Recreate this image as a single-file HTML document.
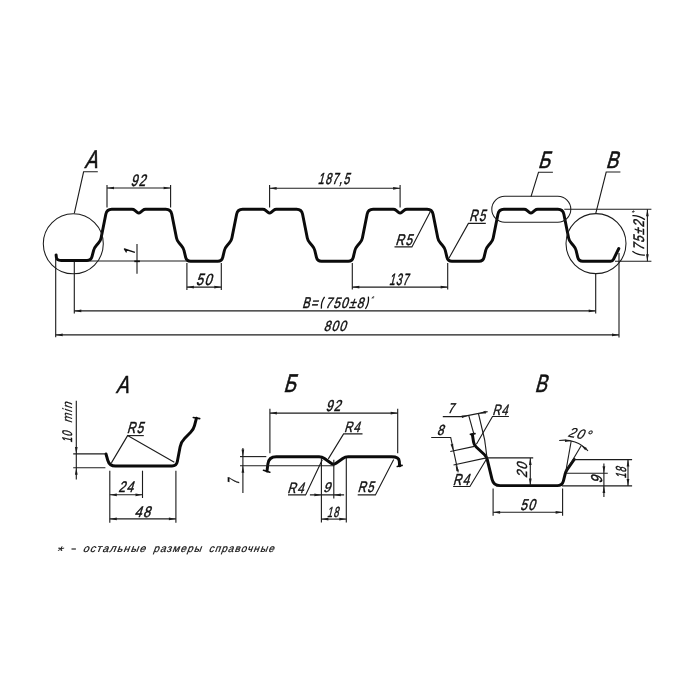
<!DOCTYPE html>
<html><head><meta charset="utf-8"><style>
html,body{margin:0;padding:0;background:#fff;width:700px;height:700px;overflow:hidden}
svg{display:block;will-change:transform}
text{font-family:"Liberation Sans",sans-serif;font-style:normal}
</style></head><body>
<svg width="700" height="700" viewBox="0 0 700 700">
<rect width="700" height="700" fill="#fff"/>
<path d="M56.1,254.9 L56.4,257.7 Q56.7,260.5 61.2,260.5 L87,260.5 Q91,260.5 91.99,256.62 L93.56,250.51 Q94.3,247.6 96.34,245.4 L98.46,243.1 Q100.5,240.9 101.09,237.96 L105.82,214.2 Q106.8,209.3 111.8,209.3 L132,209.3 Q133.6,209.3 134.82,210.33 L137.27,212.41 Q138.8,213.7 140.33,212.41 L142.78,210.33 Q144,209.3 145.6,209.3 L165.8,209.3 Q170.8,209.3 171.78,214.2 L176.51,237.96 Q177.1,240.9 179.14,243.1 L181.26,245.4 Q183.3,247.6 184.01,250.52 L185.66,257.31 Q186.6,261.2 190.6,261.2 L217.8,261.2 Q221.8,261.2 222.74,257.31 L224.39,250.52 Q225.1,247.6 227.14,245.4 L229.26,243.1 Q231.3,240.9 231.89,237.96 L236.62,214.2 Q237.6,209.3 242.6,209.3 L262.8,209.3 Q264.4,209.3 265.62,210.33 L268.07,212.41 Q269.6,213.7 271.13,212.41 L273.58,210.33 Q274.8,209.3 276.4,209.3 L296.6,209.3 Q301.6,209.3 302.58,214.2 L307.31,237.96 Q307.9,240.9 309.94,243.1 L312.06,245.4 Q314.1,247.6 314.81,250.52 L316.46,257.31 Q317.4,261.2 321.4,261.2 L348.3,261.2 Q352.3,261.2 353.24,257.31 L354.89,250.52 Q355.6,247.6 357.64,245.4 L359.76,243.1 Q361.8,240.9 362.39,237.96 L367.12,214.2 Q368.1,209.3 373.1,209.3 L393.3,209.3 Q394.9,209.3 396.12,210.33 L398.57,212.41 Q400.1,213.7 401.63,212.41 L404.08,210.33 Q405.3,209.3 406.9,209.3 L427.1,209.3 Q432.1,209.3 433.08,214.2 L437.81,237.96 Q438.4,240.9 440.44,243.1 L442.56,245.4 Q444.6,247.6 445.31,250.52 L446.96,257.31 Q447.9,261.2 451.9,261.2 L479.1,261.2 Q483.1,261.2 484.04,257.31 L485.69,250.52 Q486.4,247.6 488.44,245.4 L490.56,243.1 Q492.6,240.9 493.19,237.96 L497.92,214.2 Q498.9,209.3 503.9,209.3 L524.1,209.3 Q525.7,209.3 526.92,210.33 L529.37,212.41 Q530.9,213.7 532.43,212.41 L534.88,210.33 Q536.1,209.3 537.7,209.3 L557.9,209.3 Q562.9,209.3 563.88,214.2 L568.61,237.96 Q569.2,240.9 571.24,243.1 L573.36,245.4 Q575.4,247.6 576.11,250.52 L577.76,257.31 Q578.7,261.2 582.7,261.2 L610.6,261.2 Q612.6,261.2 613.48,259.4 L618.8,248.5" fill="none" stroke="#0b0b0b" stroke-width="2.95" stroke-linejoin="round" stroke-linecap="round"/>
<circle cx="73.3" cy="243.8" r="30" fill="none" stroke="#1c1c1c" stroke-width="1.05"/>
<circle cx="596" cy="243.6" r="30" fill="none" stroke="#1c1c1c" stroke-width="1.05"/>
<path d="M74.3,213.4 L83.6,171.8 L97.8,171.8" fill="none" stroke="#1c1c1c" stroke-width="1.12"/>
<g transform="translate(84.2,168.4) scale(0.2396,0.2522) translate(0,0)"><text transform="skewX(-17) scale(0.8,1)" font-size="100" letter-spacing="10" fill="#111" stroke="#111" stroke-width="2.5">А</text></g>
<path d="M107,185 L107,207.5" fill="none" stroke="#1c1c1c" stroke-width="1.12"/>
<path d="M170.6,185 L170.6,207.5" fill="none" stroke="#1c1c1c" stroke-width="1.12"/>
<path d="M107,188 L170.6,188" fill="none" stroke="#1c1c1c" stroke-width="1.12"/>
<path d="M107,188 L114,189.35 L114,186.65 Z" fill="#1c1c1c"/>
<path d="M170.6,188 L163.6,186.65 L163.6,189.35 Z" fill="#1c1c1c"/>
<g transform="translate(131.9,185.6) scale(0.1520,0.1657) translate(-9,0)"><text transform="skewX(-17) scale(0.8,1)" font-size="100" letter-spacing="10" fill="#111" stroke="#111" stroke-width="3">92</text></g>
<path d="M269.6,185.1 L269.6,207.4" fill="none" stroke="#1c1c1c" stroke-width="1.12"/>
<path d="M400.1,185.1 L400.1,207.4" fill="none" stroke="#1c1c1c" stroke-width="1.12"/>
<path d="M269.6,188.3 L400.1,188.3" fill="none" stroke="#1c1c1c" stroke-width="1.12"/>
<path d="M269.6,188.3 L276.6,189.65 L276.6,186.95 Z" fill="#1c1c1c"/>
<path d="M400.1,188.3 L393.1,186.95 L393.1,189.65 Z" fill="#1c1c1c"/>
<g transform="translate(318.6,184.3) scale(0.1354,0.1586) translate(-6,0)"><text transform="skewX(-17) scale(0.8,1)" font-size="100" letter-spacing="10" fill="#111" stroke="#111" stroke-width="3">187,5</text></g>
<path d="M90,261 L187,261" fill="none" stroke="#1c1c1c" stroke-width="1.12"/>
<path d="M137,244 L137,273.7" fill="none" stroke="#1c1c1c" stroke-width="1.12"/>
<path d="M134.3,261.3 L139.9,261.3" fill="none" stroke="#111" stroke-width="1.7"/>
<path d="M126.6,252.4 L124.4,249.0 L134.9,252.3" fill="none" stroke="#111" stroke-width="1.35" stroke-linejoin="round"/>
<path d="M186.9,263 L186.9,290" fill="none" stroke="#1c1c1c" stroke-width="1.12"/>
<path d="M221.3,263 L221.3,290" fill="none" stroke="#1c1c1c" stroke-width="1.12"/>
<path d="M186.9,287.1 L221.3,287.1" fill="none" stroke="#1c1c1c" stroke-width="1.12"/>
<path d="M186.9,287.1 L193.9,288.45 L193.9,285.75 Z" fill="#1c1c1c"/>
<path d="M221.3,287.1 L214.3,285.75 L214.3,288.45 Z" fill="#1c1c1c"/>
<g transform="translate(197.1,284.6) scale(0.1610,0.1629) translate(-8,0)"><text transform="skewX(-17) scale(0.8,1)" font-size="100" letter-spacing="10" fill="#111" stroke="#111" stroke-width="3">50</text></g>
<path d="M430.9,210.5 L411.9,246.9 L394.5,246.9" fill="none" stroke="#1c1c1c" stroke-width="1.12"/>
<g transform="translate(396.4,244.7) scale(0.1487,0.1551) translate(-7,0)"><text transform="skewX(-17) scale(0.8,1)" font-size="100" letter-spacing="10" fill="#111" stroke="#111" stroke-width="3">R5</text></g>
<path d="M352.3,263 L352.3,289.5" fill="none" stroke="#1c1c1c" stroke-width="1.12"/>
<path d="M447.7,263 L447.7,289.5" fill="none" stroke="#1c1c1c" stroke-width="1.12"/>
<path d="M352.3,287.1 L447.7,287.1" fill="none" stroke="#1c1c1c" stroke-width="1.12"/>
<path d="M352.3,287.1 L359.3,288.45 L359.3,285.75 Z" fill="#1c1c1c"/>
<path d="M447.7,287.1 L440.7,285.75 L440.7,288.45 Z" fill="#1c1c1c"/>
<g transform="translate(389.7,284.5) scale(0.1288,0.1643) translate(-6,0)"><text transform="skewX(-17) scale(0.8,1)" font-size="100" letter-spacing="10" fill="#111" stroke="#111" stroke-width="3">137</text></g>
<path d="M448.9,258.3 L468.4,223.4 L485.8,223.4" fill="none" stroke="#1c1c1c" stroke-width="1.12"/>
<g transform="translate(470.1,221.3) scale(0.1453,0.1623) translate(-7,0)"><text transform="skewX(-17) scale(0.8,1)" font-size="100" letter-spacing="10" fill="#111" stroke="#111" stroke-width="3">R5</text></g>
<rect x="491.8" y="196.2" width="79" height="26.1" rx="13" fill="none" stroke="#1c1c1c" stroke-width="1.05"/>
<path d="M531,196.6 L538.5,172.3 L552.9,172.3" fill="none" stroke="#1c1c1c" stroke-width="1.12"/>
<g transform="translate(539.3,168) scale(0.2286,0.2377) translate(-7,0)"><text transform="skewX(-17) scale(0.8,1)" font-size="100" letter-spacing="10" fill="#111" stroke="#111" stroke-width="2.5">Б</text></g>
<path d="M595.7,213.6 L606.2,172 L620.4,172" fill="none" stroke="#1c1c1c" stroke-width="1.12"/>
<g transform="translate(607.1,168) scale(0.2304,0.2377) translate(-7,0)"><text transform="skewX(-17) scale(0.8,1)" font-size="100" letter-spacing="10" fill="#111" stroke="#111" stroke-width="2.5">В</text></g>
<path d="M564.3,209.2 L651.4,209.2" fill="none" stroke="#1c1c1c" stroke-width="1.12"/>
<path d="M615,261.2 L651.4,261.2" fill="none" stroke="#1c1c1c" stroke-width="1.12"/>
<path d="M647.4,209.2 L647.4,261.2" fill="none" stroke="#1c1c1c" stroke-width="1.12"/>
<path d="M647.4,209.2 L646.05,216.2 L648.75,216.2 Z" fill="#1c1c1c"/>
<path d="M647.4,261.2 L648.75,254.2 L646.05,254.2 Z" fill="#1c1c1c"/>
<g transform="translate(644,248.7) rotate(-90) scale(0.1487,0.1529) translate(-14,0)"><text transform="skewX(-17) scale(0.8,1)" font-size="100" letter-spacing="10" fill="#111" stroke="#111" stroke-width="3">75±2</text></g>
<path d="M632.4,251.3 Q638.5,255.6 644.9,255.1 M632.4,215.7 Q638.5,215.3 644.9,219.6" fill="none" stroke="#111" stroke-width="1.3"/>
<g transform="translate(632,210.1) scale(0.0966,0.0686) translate(-17,69)"><text transform="skewX(-17) scale(0.8,1)" font-size="100" letter-spacing="10" fill="#111" stroke="#111" stroke-width="1" >*</text></g>
<path d="M74.3,262 L74.3,313.4" fill="none" stroke="#1c1c1c" stroke-width="1.12"/>
<path d="M595.7,273.6 L595.7,313.4" fill="none" stroke="#1c1c1c" stroke-width="1.12"/>
<path d="M74.3,310.9 L595.7,310.9" fill="none" stroke="#1c1c1c" stroke-width="1.12"/>
<path d="M74.3,310.9 L81.3,312.25 L81.3,309.55 Z" fill="#1c1c1c"/>
<path d="M595.7,310.9 L588.7,309.55 L588.7,312.25 Z" fill="#1c1c1c"/>
<g transform="translate(303,307.9) scale(0.1420,0.1557) translate(-7,0)"><text transform="skewX(-17) scale(0.8,1)" font-size="100" letter-spacing="10" fill="#111" stroke="#111" stroke-width="3">B=</text></g>
<g transform="translate(327.1,308) scale(0.1504,0.1500) translate(-14,0)"><text transform="skewX(-17) scale(0.8,1)" font-size="100" letter-spacing="10" fill="#111" stroke="#111" stroke-width="3">750±8</text></g>
<path d="M324.6,296.9 Q320.8,302.2 321.4,308.6 M368.4,296.6 Q369.2,303.5 365.4,308.8" fill="none" stroke="#111" stroke-width="1.3"/>
<g transform="translate(371.6,296.3) scale(0.0862,0.0714) translate(-17,69)"><text transform="skewX(-17) scale(0.8,1)" font-size="100" letter-spacing="10" fill="#111" stroke="#111" stroke-width="1" >*</text></g>
<path d="M55.7,258 L55.7,337.3" fill="none" stroke="#1c1c1c" stroke-width="1.12"/>
<path d="M619,252.9 L619,337.5" fill="none" stroke="#1c1c1c" stroke-width="1.12"/>
<path d="M55.7,334.9 L619,334.9" fill="none" stroke="#1c1c1c" stroke-width="1.12"/>
<path d="M55.7,334.9 L62.7,336.25 L62.7,333.55 Z" fill="#1c1c1c"/>
<path d="M619,334.9 L612,333.55 L612,336.25 Z" fill="#1c1c1c"/>
<g transform="translate(324.6,331.4) scale(0.1490,0.1471) translate(-8,0)"><text transform="skewX(-17) scale(0.8,1)" font-size="100" letter-spacing="10" fill="#111" stroke="#111" stroke-width="3">800</text></g>
<g transform="translate(115.8,392.5) scale(0.2340,0.2464) translate(0,0)"><text transform="skewX(-17) scale(0.8,1)" font-size="100" letter-spacing="10" fill="#111" stroke="#111" stroke-width="2.5">А</text></g>
<path d="M106,454 L107.76,460.23 Q109.4,466 115.4,466 L172,466 Q176.5,466 177.33,461.58 L180.08,446.91 Q181,442 184.54,438.46 L190.67,432.33 Q193.5,429.5 194.5,425.63 L196.4,418.3" fill="none" stroke="#0b0b0b" stroke-width="2.95" stroke-linejoin="round" stroke-linecap="round"/>
<path d="M193.3,417.5 L199.7,418.6" fill="none" stroke="#0b0b0b" stroke-width="1.6" stroke-linejoin="round" stroke-linecap="round"/>
<path d="M111.4,462.9 L127.6,435.6 L174.3,462.3" fill="none" stroke="#1c1c1c" stroke-width="1.12"/>
<path d="M127.6,435.6 L143.8,435.6" fill="none" stroke="#1c1c1c" stroke-width="1.12"/>
<g transform="translate(127.8,433) scale(0.1470,0.1594) translate(-7,0)"><text transform="skewX(-17) scale(0.8,1)" font-size="100" letter-spacing="10" fill="#111" stroke="#111" stroke-width="3">R5</text></g>
<path d="M76.3,400.7 L76.3,479.6" fill="none" stroke="#1c1c1c" stroke-width="1.12"/>
<path d="M73.2,453.9 L105.4,453.9" fill="none" stroke="#1c1c1c" stroke-width="1.12"/>
<path d="M73.2,467.7 L105.4,467.7" fill="none" stroke="#1c1c1c" stroke-width="1.12"/>
<path d="M76.3,453.9 L77.65,446.9 L74.95,446.9 Z" fill="#1c1c1c"/>
<path d="M76.3,467.7 L74.95,474.7 L77.65,474.7 Z" fill="#1c1c1c"/>
<g transform="translate(71.9,442.1) rotate(-90) scale(0.1157,0.1400) translate(-6,0)"><text transform="skewX(-17) scale(0.8,1)" font-size="100" letter-spacing="10" fill="#111" stroke="#111" stroke-width="3">10</text></g>
<g transform="translate(62.3,422.5) rotate(-90) scale(0.1425,0.1333) translate(-6,72)"><text transform="skewX(-17) scale(0.8,1)" font-size="100" letter-spacing="10" fill="#111" stroke="#111" stroke-width="1.5" >min</text></g>
<path d="M109.8,470.7 L109.8,522.7" fill="none" stroke="#1c1c1c" stroke-width="1.12"/>
<path d="M142.5,470.7 L142.5,498" fill="none" stroke="#1c1c1c" stroke-width="1.12"/>
<path d="M175.9,470.7 L175.9,522.7" fill="none" stroke="#1c1c1c" stroke-width="1.12"/>
<path d="M109.8,494.8 L142.5,494.8" fill="none" stroke="#1c1c1c" stroke-width="1.12"/>
<path d="M109.8,494.8 L116.8,496.15 L116.8,493.45 Z" fill="#1c1c1c"/>
<path d="M142.5,494.8 L135.5,493.45 L135.5,496.15 Z" fill="#1c1c1c"/>
<g transform="translate(118.9,492.1) scale(0.1529,0.1529) translate(-4,0)"><text transform="skewX(-17) scale(0.8,1)" font-size="100" letter-spacing="10" fill="#111" stroke="#111" stroke-width="3">24</text></g>
<path d="M109.8,518.9 L175.9,518.9" fill="none" stroke="#1c1c1c" stroke-width="1.12"/>
<path d="M109.8,518.9 L116.8,520.25 L116.8,517.55 Z" fill="#1c1c1c"/>
<path d="M175.9,518.9 L168.9,517.55 L168.9,520.25 Z" fill="#1c1c1c"/>
<g transform="translate(135.3,516.8) scale(0.1627,0.1529) translate(-7,0)"><text transform="skewX(-17) scale(0.8,1)" font-size="100" letter-spacing="10" fill="#111" stroke="#111" stroke-width="3">48</text></g>
<g transform="translate(285,392.3) scale(0.2339,0.2565) translate(-7,0)"><text transform="skewX(-17) scale(0.8,1)" font-size="100" letter-spacing="10" fill="#111" stroke="#111" stroke-width="2.5">Б</text></g>
<path d="M269.9,408.8 L269.9,453.3" fill="none" stroke="#1c1c1c" stroke-width="1.12"/>
<path d="M397.7,408.8 L397.7,453.3" fill="none" stroke="#1c1c1c" stroke-width="1.12"/>
<path d="M269.9,413.1 L397.7,413.1" fill="none" stroke="#1c1c1c" stroke-width="1.12"/>
<path d="M269.9,413.1 L276.9,414.45 L276.9,411.75 Z" fill="#1c1c1c"/>
<path d="M397.7,413.1 L390.7,411.75 L390.7,414.45 Z" fill="#1c1c1c"/>
<g transform="translate(326.8,410.7) scale(0.1530,0.1586) translate(-9,0)"><text transform="skewX(-17) scale(0.8,1)" font-size="100" letter-spacing="10" fill="#111" stroke="#111" stroke-width="3">92</text></g>
<path d="M267,471 L267.9,463.9 Q268.8,456.8 276.3,456.8 L319,456.8 Q322,456.8 324.45,458.53 L331.15,463.27 Q333.6,465 336.05,463.27 L342.75,458.53 Q345.2,456.8 348.2,456.8 L391.5,456.8 Q399,456.8 399.3,461.3 L399.6,465.8" fill="none" stroke="#0b0b0b" stroke-width="2.95" stroke-linejoin="round" stroke-linecap="round"/>
<path d="M263.5,470.3 L269.8,472.2" fill="none" stroke="#0b0b0b" stroke-width="1.6" stroke-linejoin="round" stroke-linecap="round"/>
<path d="M397.3,466.5 L402.1,465.4" fill="none" stroke="#0b0b0b" stroke-width="1.6" stroke-linejoin="round" stroke-linecap="round"/>
<path d="M242.9,447.9 L242.9,492.9" fill="none" stroke="#1c1c1c" stroke-width="1.12"/>
<path d="M240,456.6 L266.3,456.6" fill="none" stroke="#1c1c1c" stroke-width="1.12"/>
<path d="M240,465.8 L334.3,465.8" fill="none" stroke="#1c1c1c" stroke-width="1.12"/>
<path d="M242.9,456.6 L244.25,449.6 L241.55,449.6 Z" fill="#1c1c1c"/>
<path d="M242.9,465.8 L241.55,472.8 L244.25,472.8 Z" fill="#1c1c1c"/>
<g transform="translate(239.3,482.9) rotate(-90) scale(0.1234,0.1609) translate(-14,0)"><text transform="skewX(-17) scale(0.8,1)" font-size="100" letter-spacing="10" fill="#111" stroke="#111" stroke-width="3">7</text></g>
<path d="M328.3,458.9 L343.6,433.9 L362.5,433.9" fill="none" stroke="#1c1c1c" stroke-width="1.12"/>
<g transform="translate(345,431.8) scale(0.1412,0.1507) translate(-7,0)"><text transform="skewX(-17) scale(0.8,1)" font-size="100" letter-spacing="10" fill="#111" stroke="#111" stroke-width="3">R4</text></g>
<path d="M322.3,459.7 L305.6,494.9 L288,494.9" fill="none" stroke="#1c1c1c" stroke-width="1.12"/>
<g transform="translate(288.4,492.6) scale(0.1465,0.1493) translate(-7,0)"><text transform="skewX(-17) scale(0.8,1)" font-size="100" letter-spacing="10" fill="#111" stroke="#111" stroke-width="3">R4</text></g>
<path d="M393.7,459.6 L375.4,494.9 L357.7,494.9" fill="none" stroke="#1c1c1c" stroke-width="1.12"/>
<g transform="translate(358.6,492.4) scale(0.1436,0.1522) translate(-7,0)"><text transform="skewX(-17) scale(0.8,1)" font-size="100" letter-spacing="10" fill="#111" stroke="#111" stroke-width="3">R5</text></g>
<path d="M321.4,458 L321.4,522.6" fill="none" stroke="#1c1c1c" stroke-width="1.12"/>
<path d="M333.8,459.7 L333.8,498.6" fill="none" stroke="#1c1c1c" stroke-width="1.12"/>
<path d="M346.3,458 L346.3,522.6" fill="none" stroke="#1c1c1c" stroke-width="1.12"/>
<path d="M309.9,494.9 L344.1,494.9" fill="none" stroke="#1c1c1c" stroke-width="1.12"/>
<path d="M321.4,494.9 L314.4,493.55 L314.4,496.25 Z" fill="#1c1c1c"/>
<path d="M333.8,494.9 L340.8,496.25 L340.8,493.55 Z" fill="#1c1c1c"/>
<g transform="translate(324.4,491.7) scale(0.1587,0.1400) translate(-9,0)"><text transform="skewX(-17) scale(0.8,1)" font-size="100" letter-spacing="10" fill="#111" stroke="#111" stroke-width="3">9</text></g>
<path d="M321.4,519.1 L346.3,519.1" fill="none" stroke="#1c1c1c" stroke-width="1.12"/>
<path d="M321.4,519.1 L328.4,520.45 L328.4,517.75 Z" fill="#1c1c1c"/>
<path d="M346.3,519.1 L339.3,517.75 L339.3,520.45 Z" fill="#1c1c1c"/>
<g transform="translate(327.8,516.6) scale(0.1165,0.1471) translate(-6,0)"><text transform="skewX(-17) scale(0.8,1)" font-size="100" letter-spacing="10" fill="#111" stroke="#111" stroke-width="3">18</text></g>
<g transform="translate(536,392.3) scale(0.2250,0.2493) translate(-7,0)"><text transform="skewX(-17) scale(0.8,1)" font-size="100" letter-spacing="10" fill="#111" stroke="#111" stroke-width="2.5">В</text></g>
<path d="M472.4,434.8 L473.54,442.04 Q474,445 476.21,447.03 L484.29,454.47 Q486.5,456.5 487.21,459.41 L492.06,479.29 Q493.6,485.6 500.1,485.6 L557.2,485.6 Q562.2,485.6 563.44,480.76 L565.18,473.92 Q565.8,471.5 567.23,469.45 L574.2,459.5" fill="none" stroke="#0b0b0b" stroke-width="2.95" stroke-linejoin="round" stroke-linecap="round"/>
<path d="M470.4,434.4 L475.0,433.6" fill="none" stroke="#0b0b0b" stroke-width="1.6" stroke-linejoin="round" stroke-linecap="round"/>
<path d="M442.8,416.6 L462.4,416.6 L487.6,411.6" fill="none" stroke="#1c1c1c" stroke-width="1.12"/>
<path d="M468.7,415.3 L473.9,434.1" fill="none" stroke="#1c1c1c" stroke-width="1.12"/>
<path d="M478.4,413.4 L484.7,440" fill="none" stroke="#1c1c1c" stroke-width="1.12"/>
<path d="M484.7,440 L487,457.9" fill="none" stroke="#1c1c1c" stroke-width="1.12"/>
<path d="M468.7,415.4 L461.57,415.42 L462.09,418.07 Z" fill="#1c1c1c"/>
<path d="M478.9,413.5 L486.03,413.39 L485.48,410.75 Z" fill="#1c1c1c"/>
<g transform="translate(449.4,413.4) scale(0.1426,0.1420) translate(-14,0)"><text transform="skewX(-17) scale(0.8,1)" font-size="100" letter-spacing="10" fill="#111" stroke="#111" stroke-width="3">7</text></g>
<path d="M508.9,416.5 L492.5,416.5 L476.4,444.3" fill="none" stroke="#1c1c1c" stroke-width="1.12"/>
<g transform="translate(493.1,414.6) scale(0.1386,0.1493) translate(-7,0)"><text transform="skewX(-17) scale(0.8,1)" font-size="100" letter-spacing="10" fill="#111" stroke="#111" stroke-width="3">R4</text></g>
<path d="M431.2,437.5 L450.7,437.5 L458.2,472.4" fill="none" stroke="#1c1c1c" stroke-width="1.12"/>
<path d="M450.3,451.5 L474.4,446.4" fill="none" stroke="#1c1c1c" stroke-width="1.12"/>
<path d="M453.5,465 L486.4,457.9" fill="none" stroke="#1c1c1c" stroke-width="1.12"/>
<path d="M453.3,451 L453.2,443.87 L450.55,444.42 Z" fill="#1c1c1c"/>
<path d="M455.6,464.7 L456.4,471.29 L458.96,470.43 Z" fill="#1c1c1c"/>
<g transform="translate(437.9,435.2) scale(0.1490,0.1471) translate(-8,0)"><text transform="skewX(-17) scale(0.8,1)" font-size="100" letter-spacing="10" fill="#111" stroke="#111" stroke-width="3">8</text></g>
<path d="M453.1,486.5 L469.9,486.5 L486.4,459.3" fill="none" stroke="#1c1c1c" stroke-width="1.12"/>
<g transform="translate(453.8,484.6) scale(0.1465,0.1594) translate(-7,0)"><text transform="skewX(-17) scale(0.8,1)" font-size="100" letter-spacing="10" fill="#111" stroke="#111" stroke-width="3">R4</text></g>
<path d="M486.4,457.9 L533.2,457.9" fill="none" stroke="#1c1c1c" stroke-width="1.12"/>
<path d="M530.3,457.9 L530.3,485.6" fill="none" stroke="#1c1c1c" stroke-width="1.12"/>
<path d="M530.3,457.9 L528.95,464.9 L531.65,464.9 Z" fill="#1c1c1c"/>
<path d="M530.3,485.6 L531.65,478.6 L528.95,478.6 Z" fill="#1c1c1c"/>
<g transform="translate(527,477.5) rotate(-90) scale(0.1548,0.1457) translate(-4,0)"><text transform="skewX(-17) scale(0.8,1)" font-size="100" letter-spacing="10" fill="#111" stroke="#111" stroke-width="3">20</text></g>
<path d="M559.2,440.6 A31,31 0 0 1 588,450.9" fill="none" stroke="#1c1c1c" stroke-width="1.05"/>
<path d="M565.8,471.5 L571.2,441" fill="none" stroke="#1c1c1c" stroke-width="1.12"/>
<path d="M565.8,471.5 L581.3,445.5" fill="none" stroke="#1c1c1c" stroke-width="1.12"/>
<path d="M571,441 L565.07,439.38 L564.95,442.08 Z" fill="#1c1c1c"/>
<path d="M581.3,445.5 L585.2,450.25 L586.86,448.12 Z" fill="#1c1c1c"/>
<g transform="translate(580.3,433.8) rotate(10) scale(0.1610,0.1408) translate(-77.0,34.5)"><text transform="skewX(-17) scale(0.8,1)" font-size="100" letter-spacing="10" fill="#111" stroke="#111" stroke-width="1.5" >20°</text></g>
<path d="M574.1,459.6 L632.1,459.6" fill="none" stroke="#1c1c1c" stroke-width="1.12"/>
<path d="M562,485.9 L632.1,485.9" fill="none" stroke="#1c1c1c" stroke-width="1.12"/>
<path d="M628,459.6 L628,485.9" fill="none" stroke="#1c1c1c" stroke-width="1.12"/>
<path d="M628,459.6 L626.65,466.6 L629.35,466.6 Z" fill="#1c1c1c"/>
<path d="M628,485.9 L629.35,478.9 L626.65,478.9 Z" fill="#1c1c1c"/>
<g transform="translate(625.8,477.8) rotate(-90) scale(0.1146,0.1457) translate(-6,0)"><text transform="skewX(-17) scale(0.8,1)" font-size="100" letter-spacing="10" fill="#111" stroke="#111" stroke-width="3">18</text></g>
<path d="M566.6,473.3 L607.8,473.3" fill="none" stroke="#1c1c1c" stroke-width="1.12"/>
<path d="M603.9,463.6 L603.9,497" fill="none" stroke="#1c1c1c" stroke-width="1.12"/>
<path d="M603.9,473.3 L605.25,466.3 L602.55,466.3 Z" fill="#1c1c1c"/>
<path d="M603.9,485.9 L602.55,492.9 L605.25,492.9 Z" fill="#1c1c1c"/>
<g transform="translate(601.5,482.1) rotate(-90) scale(0.1630,0.1571) translate(-9,0)"><text transform="skewX(-17) scale(0.8,1)" font-size="100" letter-spacing="10" fill="#111" stroke="#111" stroke-width="3">9</text></g>
<path d="M493.1,488.6 L493.1,515.7" fill="none" stroke="#1c1c1c" stroke-width="1.12"/>
<path d="M562.6,488.6 L562.6,515.7" fill="none" stroke="#1c1c1c" stroke-width="1.12"/>
<path d="M493.1,512.3 L562.6,512.3" fill="none" stroke="#1c1c1c" stroke-width="1.12"/>
<path d="M493.1,512.3 L500.1,513.65 L500.1,510.95 Z" fill="#1c1c1c"/>
<path d="M562.6,512.3 L555.6,510.95 L555.6,513.65 Z" fill="#1c1c1c"/>
<g transform="translate(521.1,509.6) scale(0.1530,0.1571) translate(-8,0)"><text transform="skewX(-17) scale(0.8,1)" font-size="100" letter-spacing="10" fill="#111" stroke="#111" stroke-width="3">50</text></g>
<g transform="translate(58,546.4) scale(0.2069,0.1229) translate(-17,69)"><text transform="skewX(-17) scale(0.8,1)" font-size="100" letter-spacing="10" fill="#111" stroke="#111" stroke-width="1" >*</text></g>
<path d="M71.5,549.0 L75.9,549.0" stroke="#111" stroke-width="1.1"/>
<g transform="translate(83.7,546.4) scale(0.1351,0.1073) translate(-9,54)"><text transform="skewX(-17) scale(0.8,1)" font-size="100" letter-spacing="10" fill="#111" stroke="#111" stroke-width="2" >остальные</text></g>
<g transform="translate(152.9,546.4) scale(0.1280,0.1053) translate(1,54)"><text transform="skewX(-17) scale(0.8,1)" font-size="100" letter-spacing="10" fill="#111" stroke="#111" stroke-width="2" >размеры</text></g>
<g transform="translate(209.6,546.4) scale(0.1261,0.1053) translate(-9,54)"><text transform="skewX(-17) scale(0.8,1)" font-size="100" letter-spacing="10" fill="#111" stroke="#111" stroke-width="2" >справочные</text></g>
</svg></body></html>
